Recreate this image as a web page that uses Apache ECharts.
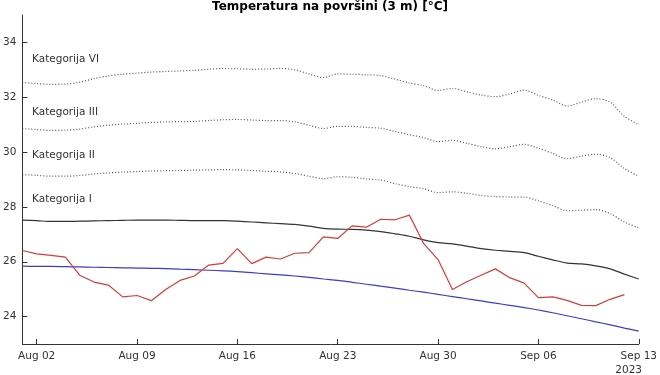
<!DOCTYPE html>
<html>
<head>
<meta charset="utf-8">
<script src="https://cdn.jsdelivr.net/npm/echarts@6/dist/echarts.min.js"></script>
<style>html,body{margin:0;padding:0;background:#fff}#c{width:660px;height:375px}</style>
</head>
<body>
<div id="c"></div>
<script>
// day index 0 = Aug 01 2023
const tickDays = [1, 8, 15, 22, 29, 36, 43];
const tickLabels = ['Aug 02', 'Aug 09', 'Aug 16', 'Aug 23', 'Aug 30', 'Sep 06', 'Sep 13'];
const yTicks = [24, 26, 28, 30, 32, 34];

// observed (red), Aug 01 .. Sep 12
const observed = [26.41, 26.29, 26.23, 26.17, 25.51, 25.26, 25.15, 24.72, 24.77, 24.58,
  24.99, 25.32, 25.48, 25.88, 25.94, 26.48, 25.93, 26.17, 26.10, 26.31,
  26.33, 26.91, 26.85, 27.31, 27.26, 27.55, 27.53, 27.70, 26.66, 26.08,
  24.99, 25.27, 25.51, 25.74, 25.42, 25.22, 24.69, 24.72, 24.59, 24.41,
  24.40, 24.63, 24.80];

// climatology (blue), Aug 01 .. Sep 13
const climate = [25.84, 25.83, 25.83, 25.82, 25.81, 25.80, 25.79, 25.78, 25.77, 25.76,
  25.75, 25.73, 25.71, 25.69, 25.67, 25.64, 25.60, 25.56, 25.52, 25.48,
  25.43, 25.37, 25.32, 25.25, 25.18, 25.11, 25.04, 24.96, 24.89, 24.81,
  24.73, 24.65, 24.57, 24.49, 24.41, 24.33, 24.24, 24.14, 24.03, 23.92,
  23.81, 23.70, 23.58, 23.47];

// Kategorija I (black solid)
const katI = [27.52, 27.50, 27.47, 27.47, 27.48, 27.49, 27.50, 27.51, 27.52, 27.52,
  27.52, 27.51, 27.50, 27.50, 27.50, 27.48, 27.45, 27.42, 27.39, 27.36,
  27.30, 27.22, 27.19, 27.18, 27.15, 27.10, 27.02, 26.93, 26.80, 26.70,
  26.65, 26.57, 26.48, 26.42, 26.38, 26.33, 26.20, 26.07, 25.95, 25.92,
  25.85, 25.74, 25.55, 25.37];

// Kategorija II (dotted)
const katII = [29.18, 29.15, 29.12, 29.12, 29.15, 29.20, 29.24, 29.27, 29.29, 29.31,
  29.32, 29.33, 29.34, 29.35, 29.36, 29.35, 29.33, 29.30, 29.28, 29.22,
  29.12, 29.03, 29.10, 29.08, 29.02, 28.98, 28.85, 28.74, 28.66, 28.52,
  28.55, 28.50, 28.42, 28.38, 28.36, 28.36, 28.22, 28.05, 27.86, 27.88,
  27.90, 27.76, 27.45, 27.24];

// Kategorija III (dotted)
const katIII = [30.86, 30.82, 30.79, 30.80, 30.84, 30.92, 30.98, 31.02, 31.05, 31.08,
  31.10, 31.11, 31.12, 31.15, 31.18, 31.19, 31.17, 31.15, 31.15, 31.10,
  30.98, 30.86, 30.94, 30.94, 30.90, 30.87, 30.75, 30.63, 30.53, 30.38,
  30.43, 30.32, 30.20, 30.12, 30.20, 30.28, 30.14, 29.95, 29.76, 29.85,
  29.92, 29.80, 29.40, 29.12];

// Kategorija VI (dotted)
const katVI = [32.54, 32.50, 32.47, 32.48, 32.55, 32.68, 32.78, 32.84, 32.88, 32.92,
  32.94, 32.96, 32.98, 33.02, 33.05, 33.04, 33.02, 33.03, 33.05, 33.00,
  32.85, 32.72, 32.85, 32.84, 32.82, 32.79, 32.66, 32.52, 32.42, 32.25,
  32.32, 32.20, 32.08, 32.02, 32.12, 32.26, 32.07, 31.90, 31.68, 31.82,
  31.95, 31.82, 31.30, 31.00];

const catLabels = ['Kategorija VI', 'Kategorija III', 'Kategorija II', 'Kategorija I'];

const pairs = arr => arr.map((v, i) => [i, v]);
const FONT = 'DejaVu Sans';
const TXT = '#333';

const chart = echarts.init(document.getElementById('c'), null, {renderer: 'canvas'});

function dotted(arr) {
  return {
    type: 'line', data: pairs(arr), showSymbol: false, symbol: 'none', smooth: 0.3,
    lineStyle: {color: '#555', width: 1.2, type: [1, 2]}, silent: true, z: 2
  };
}

const labelY = [61, 114, 157, 201];

chart.setOption({
  animation: false,
  title: {
    text: 'Temperatura na površini (3 m) [°C]', left: 'center', top: -4,
    textStyle: {fontFamily: FONT, fontSize: 12, fontWeight: 'bold', color: '#000'}
  },
  grid: {left: 17, right: 18, top: 15, bottom: 31, containLabel: false},
  xAxis: {
    type: 'value', min: 0, max: 43,
    splitLine: {show: false},
    axisLine: {show: true, lineStyle: {color: '#333', width: 1}},
    axisTick: {show: true, inside: true, length: 5, lineStyle: {color: '#333'}, customValues: tickDays},
    axisLabel: {
      customValues: tickDays, fontFamily: FONT, fontSize: 10.5, color: TXT, margin: 7,
      formatter: v => { const k = tickDays.indexOf(Math.round(v)); return k >= 0 ? tickLabels[k] : ''; }
    }
  },
  yAxis: {
    type: 'value', min: 23, max: 35,
    splitLine: {show: false},
    axisLine: {show: true, lineStyle: {color: '#333', width: 1}},
    axisTick: {show: true, inside: true, length: 5, lineStyle: {color: '#333'}, customValues: yTicks},
    axisLabel: {customValues: yTicks, fontFamily: FONT, fontSize: 10.5, color: TXT, margin: 6}
  },
  series: [
    dotted(katVI), dotted(katIII), dotted(katII),
    {type: 'line', data: pairs(katI), showSymbol: false, symbol: 'none', smooth: 0.3,
     lineStyle: {color: '#333', width: 1.2}, z: 3},
    {type: 'line', data: pairs(climate), showSymbol: false, symbol: 'none', smooth: 0.3,
     lineStyle: {color: '#3b3bcc', width: 1.2}, z: 3},
    {type: 'line', data: pairs(observed), showSymbol: false, symbol: 'none',
     lineStyle: {color: '#d43c3c', width: 1.2}, z: 4}
  ],
  graphic: catLabels.map((t, i) => ({
    type: 'text', left: 32, top: labelY[i] - 7,
    style: {text: t, fontFamily: FONT, fontSize: 10.5, fill: TXT}
  })).concat([{
    type: 'text', right: 18, top: 365,
    style: {text: '2023', fontFamily: FONT, fontSize: 10.5, fill: TXT}
  }])
});
</script>
</body>
</html>
